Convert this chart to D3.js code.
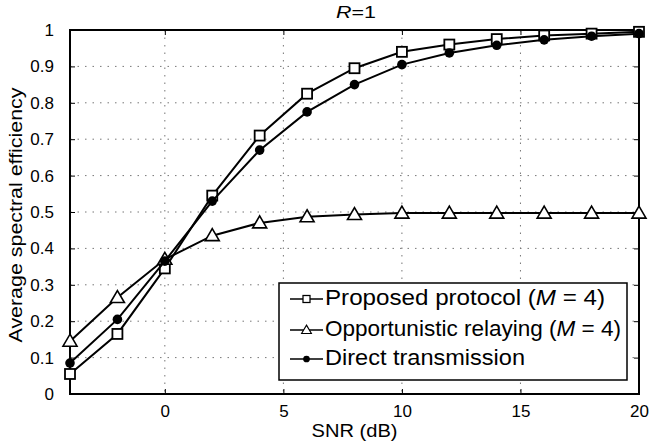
<!DOCTYPE html>
<html>
<head>
<meta charset="utf-8">
<script src="https://cdn.jsdelivr.net/npm/d3@7"></script>
<style>
  body { margin: 0; background: #fff; }
  text { font-family: "Liberation Sans", Arial, sans-serif; fill: #000; }
  .grid line { stroke: #777; stroke-dasharray: 1.5,6; }
</style>
</head>
<body>
<svg width="649" height="448"></svg>
<script>
// values
var snr = [-4, -2, 0, 2, 4, 6, 8, 10, 12, 14, 16, 18, 20];
var proposed = [0.055, 0.165, 0.345, 0.545, 0.71, 0.825, 0.895, 0.94, 0.96, 0.975, 0.985, 0.99, 0.995];
var opportunistic = [0.145, 0.265, 0.37, 0.435, 0.47, 0.487, 0.493, 0.497, 0.497, 0.497, 0.497, 0.497, 0.497];
var direct = [0.085, 0.205, 0.365, 0.53, 0.67, 0.775, 0.85, 0.905, 0.937, 0.958, 0.973, 0.983, 0.99];
var xTicks = [0, 5, 10, 15, 20];
var yTicks = [0, 0.1, 0.2, 0.3, 0.4, 0.5, 0.6, 0.7, 0.8, 0.9, 1];
var legendNames = ["Proposed protocol (", "Opportunistic relaying (", "Direct transmission"];

var svg = d3.select("svg");
var pL = 70, pR = 639, pT = 30, pB = 394;

var x = d3.scaleLinear().domain([-4, 20]).range([pL, pR]);
var y = d3.scaleLinear().domain([0, 1]).range([pB, pT]);

// grid
var grid = svg.append("g").attr("class", "grid");
grid.selectAll(".gx").data(xTicks.filter(function(d) { return d > -4 && d < 20; }))
  .enter().append("line")
  .attr("x1", function(d) { return x(d); }).attr("x2", function(d) { return x(d); })
  .attr("y1", pT).attr("y2", pB);
grid.selectAll(".gy").data(yTicks.filter(function(d) { return d > 0 && d < 1; }))
  .enter().append("line")
  .attr("x1", pL).attr("x2", pR)
  .attr("y1", function(d) { return y(d); }).attr("y2", function(d) { return y(d); });

// axes
var xAxis = d3.axisBottom(x).tickValues(xTicks).tickSize(-5).tickPadding(11).tickFormat(d3.format("d"));
var yAxis = d3.axisLeft(y).tickValues(yTicks).tickSize(-5).tickPadding(16).tickFormat(function(d) { return d === 0 || d === 1 ? d : d3.format(".1f")(d); });

svg.append("g").attr("transform", "translate(0," + pB + ")").call(xAxis)
  .call(function(g) { g.select(".domain").remove(); g.selectAll("text").style("font-size", "17px"); });
svg.append("g").attr("transform", "translate(" + pL + ",0)").call(yAxis)
  .call(function(g) { g.select(".domain").remove(); g.selectAll("text").style("font-size", "17px"); });
svg.append("g").attr("transform", "translate(0," + pT + ")").call(d3.axisTop(x).tickValues(xTicks).tickSize(-5).tickFormat(""))
  .call(function(g) { g.select(".domain").remove(); });
svg.append("g").attr("transform", "translate(" + pR + ",0)").call(d3.axisRight(y).tickValues(yTicks).tickSize(-5).tickFormat(""))
  .call(function(g) { g.select(".domain").remove(); });

svg.append("rect").attr("x", pL).attr("y", pT).attr("width", pR - pL).attr("height", pB - pT)
  .attr("fill", "none").attr("stroke", "#000").attr("stroke-width", 2);

// markers
function marker(g, kind) {
  if (kind === "square") {
    g.append("rect").attr("x", -5).attr("y", -5).attr("width", 10).attr("height", 10)
      .attr("fill", "#fff").attr("stroke", "#000").attr("stroke-width", 1.8);
  } else if (kind === "triangle") {
    g.append("path").attr("d", "M0,-7L7,5L-7,5Z")
      .attr("fill", "#fff").attr("stroke", "#000").attr("stroke-width", 1.6);
  } else {
    g.append("circle").attr("r", 4.8).attr("fill", "#000");
  }
}

var series = [
  { values: proposed, kind: "square" },
  { values: opportunistic, kind: "triangle" },
  { values: direct, kind: "dot" }
];

var line = d3.line().x(function(d) { return x(d[0]); }).y(function(d) { return y(d[1]); });

series.forEach(function(s) {
  var pts = snr.map(function(v, i) { return [v, s.values[i]]; });
  svg.append("path").datum(pts).attr("d", line)
    .attr("fill", "none").attr("stroke", "#000").attr("stroke-width", 2);
  svg.selectAll(null).data(pts).enter().append("g")
    .attr("transform", function(d) { return "translate(" + x(d[0]) + "," + y(d[1]) + ")"; })
    .each(function() { marker(d3.select(this), s.kind); });
});

// legend
var lg = svg.append("g");
lg.append("rect").attr("x", 279).attr("y", 283).attr("width", 348).attr("height", 97)
  .attr("fill", "#fff").attr("stroke", "#000").attr("stroke-width", 1.5);
var rowY = [299, 330, 359];
var textW = [280, 296, 200];
series.forEach(function(s, i) {
  lg.append("line").attr("x1", 290).attr("x2", 323).attr("y1", rowY[i]).attr("y2", rowY[i])
    .attr("stroke", "#000").attr("stroke-width", 1.6);
  var m = lg.append("g");
  marker(m, s.kind);
  m.attr("transform", "translate(306.5," + rowY[i] + ") scale(0.7)");
  var t = lg.append("text").attr("x", 325).attr("y", rowY[i] + 6).style("font-size", "22px")
    .attr("textLength", textW[i]).attr("lengthAdjust", "spacingAndGlyphs").text(legendNames[i]);
  if (i < 2) {
    t.append("tspan").style("font-style", "italic").text("M");
    t.append("tspan").text(" = 4)");
  }
});

// titles
svg.append("text").attr("x", 356).attr("y", 18).attr("text-anchor", "middle").style("font-size", "17px")
  .attr("textLength", 40).attr("lengthAdjust", "spacingAndGlyphs")
  .call(function(t) {
    t.append("tspan").style("font-style", "italic").text("R");
    t.append("tspan").text("=1");
  });
svg.append("text").attr("x", (pL + pR) / 2).attr("y", 437).attr("text-anchor", "middle").style("font-size", "18px")
  .attr("textLength", 86).attr("lengthAdjust", "spacingAndGlyphs").text("SNR (dB)");
svg.append("text").attr("transform", "translate(22,215) rotate(-90)")
  .attr("text-anchor", "middle").style("font-size", "18px")
  .attr("textLength", 255).attr("lengthAdjust", "spacingAndGlyphs").text("Average spectral efficiency");
</script>
</body>
</html>
